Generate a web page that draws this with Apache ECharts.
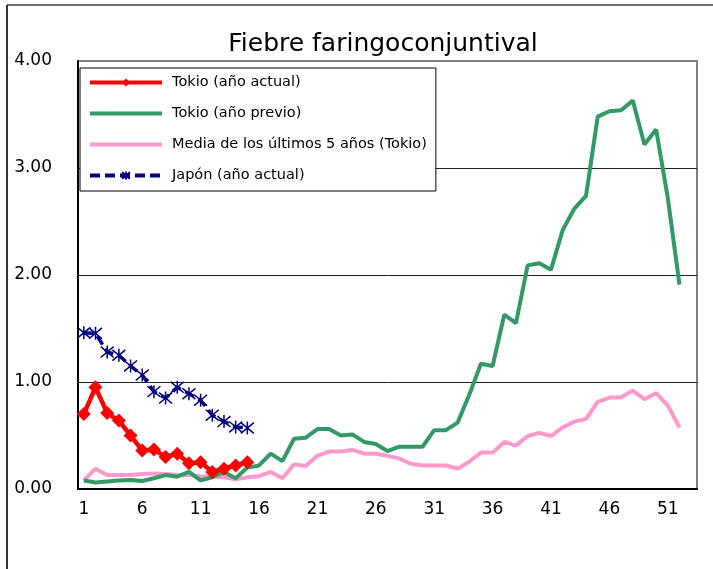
<!DOCTYPE html>
<html>
<head>
<meta charset="utf-8">
<script src="https://cdn.jsdelivr.net/npm/echarts@6/dist/echarts.min.js"></script>
<style>
html, body { margin: 0; padding: 0; background: #fff; }
#chart { width: 713px; height: 569px; }
</style>
</head>
<body>
<div id="chart"></div>
<script>
// semanas 1..53
const weeks = Array.from({ length: 53 }, (_, i) => String(i + 1));

const tokioActual = [0.70, 0.95, 0.71, 0.64, 0.50, 0.36, 0.37, 0.30, 0.33, 0.24, 0.25, 0.16, 0.19, 0.22, 0.25];

const tokioPrevio = [0.08, 0.06, 0.07, 0.08, 0.085, 0.075, 0.10, 0.13, 0.115, 0.16,
    0.08, 0.11, 0.16, 0.10, 0.20, 0.22, 0.33, 0.26, 0.47, 0.48,
    0.56, 0.56, 0.50, 0.51, 0.44, 0.42, 0.355, 0.395, 0.395, 0.395,
    0.55, 0.55, 0.62, 0.88, 1.17, 1.15, 1.63, 1.55, 2.09, 2.11,
    2.05, 2.42, 2.62, 2.74, 3.48, 3.53, 3.54, 3.63, 3.22, 3.36,
    2.72, 1.91];

const media5 = [0.08, 0.19, 0.13, 0.13, 0.13, 0.14, 0.145, 0.14, 0.13, 0.13,
    0.12, 0.115, 0.11, 0.09, 0.11, 0.12, 0.16, 0.10, 0.23, 0.215,
    0.31, 0.35, 0.35, 0.365, 0.33, 0.33, 0.31, 0.285, 0.235, 0.22,
    0.22, 0.22, 0.19, 0.255, 0.34, 0.34, 0.44, 0.405, 0.495, 0.525,
    0.495, 0.575, 0.63, 0.655, 0.815, 0.855, 0.855, 0.92, 0.84, 0.895,
    0.78, 0.575];

const japonActual = [1.46, 1.455, 1.28, 1.25, 1.15, 1.065, 0.91, 0.85, 0.95, 0.89, 0.83, 0.69, 0.63, 0.58, 0.57];

const textFont = '"DejaVu Sans", sans-serif';
const asterisk = 'path://M0,0L10,10M10,0L0,10M5,-1L5,11';

const chart = echarts.init(document.getElementById('chart'));

chart.setOption({
    animation: false,
    title: {
        text: 'Fiebre faringoconjuntival',
        left: 378,
        top: 27,
        textAlign: 'center',
        textStyle: {
            fontFamily: textFont,
            fontSize: 25,
            fontWeight: 'normal',
            color: '#000'
        }
    },
    // marco exterior del gráfico
    graphic: [
        { type: 'line', shape: { x1: 7, y1: 5, x2: 713, y2: 5 }, style: { stroke: '#6e6e6e', lineWidth: 2 } },
        { type: 'line', shape: { x1: 7, y1: 5, x2: 7, y2: 569 }, style: { stroke: '#333', lineWidth: 2 } }
    ],
    legend: {
        orient: 'vertical',
        left: 80,
        top: 68,
        padding: [7, 9, 8, 8],
        itemWidth: 72,
        itemHeight: 10,
        itemGap: 16,
        backgroundColor: '#fff',
        borderColor: '#000',
        borderWidth: 1,
        lineStyle: { width: 4 },
        textStyle: {
            fontFamily: textFont,
            fontSize: 14.5,
            color: '#000',
            padding: [0, 0, 0, 5]
        },
        data: [
            'Tokio (año actual)',
            { name: 'Tokio (año previo)', itemStyle: { color: 'rgba(0,0,0,0)', borderWidth: 0 } },
            { name: 'Media de los últimos 5 años (Tokio)', itemStyle: { color: 'rgba(0,0,0,0)', borderWidth: 0 } },
            'Japón (año actual)'
        ]
    },
    grid: {
        left: 78,
        top: 61,
        right: 16,
        bottom: 80,
        show: true,
        borderColor: '#808080',
        borderWidth: 2,
        backgroundColor: '#fff'
    },
    xAxis: {
        type: 'category',
        data: weeks,
        boundaryGap: true,
        axisLine: { lineStyle: { color: '#000', width: 2 } },
        axisTick: { inside: true, length: 5, interval: 4, lineStyle: { color: '#000' } },
        axisLabel: {
            interval: 4,
            margin: 12,
            fontFamily: textFont,
            fontSize: 17,
            color: '#000'
        },
        splitLine: { show: false }
    },
    yAxis: {
        type: 'value',
        min: 0,
        max: 4,
        interval: 1,
        axisLine: { show: true, lineStyle: { color: '#000', width: 2 } },
        axisTick: { show: false },
        axisLabel: {
            margin: 26,
            fontFamily: textFont,
            fontSize: 17,
            color: '#000',
            formatter: v => v.toFixed(2)
        },
        splitLine: { showMinLine: false, showMaxLine: false, lineStyle: { color: '#222', width: 1 } }
    },
    series: [
        {
            name: 'Media de los últimos 5 años (Tokio)',
            type: 'line',
            data: media5,
            symbol: 'none',
            z: 2,
            color: '#ff99cc',
            lineStyle: { color: '#ff99cc', width: 4 }
        },
        {
            name: 'Tokio (año previo)',
            type: 'line',
            data: tokioPrevio,
            symbol: 'none',
            z: 3,
            color: '#339966',
            lineStyle: { color: '#339966', width: 4 }
        },
        {
            name: 'Japón (año actual)',
            type: 'line',
            data: japonActual,
            symbol: asterisk,
            symbolSize: 13,
            showAllSymbol: true,
            z: 4,
            color: '#000080',
            itemStyle: { color: '#000080', borderColor: '#000080', borderWidth: 1.5 },
            lineStyle: { color: '#000080', width: 3.5, type: [10, 5] }
        },
        {
            name: 'Tokio (año actual)',
            type: 'line',
            data: tokioActual,
            symbol: 'diamond',
            symbolSize: 14,
            showAllSymbol: true,
            z: 5,
            color: '#ff0000',
            itemStyle: { color: '#ff0000' },
            lineStyle: { color: '#ff0000', width: 4.5 }
        }
    ]
});
</script>
</body>
</html>
